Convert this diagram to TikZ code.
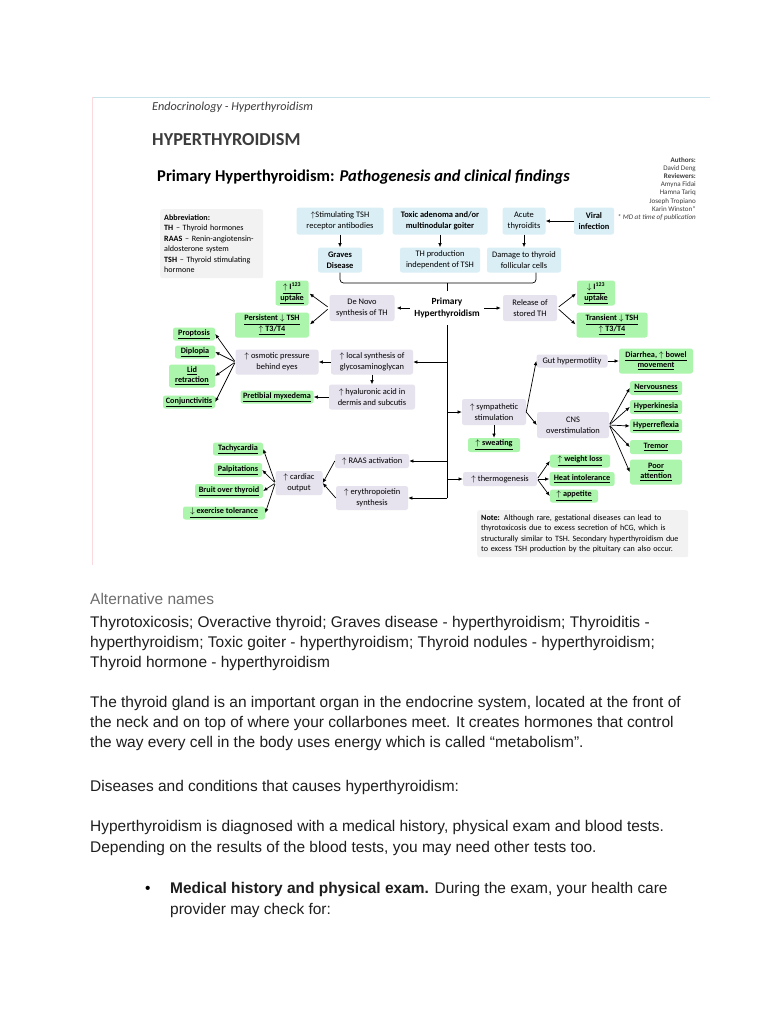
\documentclass[tikz,border=0pt]{standalone}
\usepackage{fontspec}
\setmainfont{Carlito}
\newfontfamily\docfont{Liberation Sans}
\usetikzlibrary{arrows.meta,positioning,calc}

\newlength\pxl
\setlength\pxl{0.03cm}
\definecolor{boxblue}{RGB}{218,238,245}
\definecolor{boxlilac}{RGB}{230,226,238}
\definecolor{boxgreen}{RGB}{172,245,172}
\definecolor{boxgrey}{RGB}{242,242,242}
\definecolor{inkgrey}{RGB}{60,60,60}
\newcommand\gul[1]{\underline{#1}}

\begin{document}
\begin{tikzpicture}[x=0.03cm,y=-0.03cm,
  every node/.style={font=\fontsize{7.2}{9.2}\selectfont},
  bx/.style={rounded corners=2pt, inner sep=0pt, align=center},
  blu/.style={bx, fill=boxblue},
  lil/.style={bx, fill=boxlilac},
  grn/.style={bx, fill=boxgreen, font=\fontsize{7}{9}\selectfont\bfseries},
  note/.style={bx, fill=boxgrey, anchor=north west, align=left, inner xsep=4\pxl, font=\fontsize{6.9}{8.9}\selectfont},
  sz/.style 2 args={minimum width=#1\pxl, minimum height=#2\pxl},
  arr/.style={-{Latex[length=3.6pt,width=3.1pt]}, line width=0.6pt},
  lnk/.style={line width=0.6pt},
  body/.style={anchor=base west, inner sep=0pt, font=\docfont\fontsize{13.2}{17}\selectfont},
]
\fill[white] (0,0) rectangle (768,1024);

% page frame
\draw[color={rgb,255:red,200;green,228;blue,234}, line width=0.8pt] (92,97) -- (710,97);
\draw[color={rgb,255:red,250;green,218;blue,222}, line width=0.8pt] (92,97) -- (92,565);

% headings
\node[anchor=west, inner sep=0pt, text=inkgrey, font=\fontsize{10.4}{12}\selectfont\itshape] (sect) at (152,107) {Endocrinology - Hyperthyroidism};
\node[anchor=west, inner sep=0pt, text=inkgrey, font=\fontsize{15.6}{18}\selectfont\bfseries] (ttl) at (152,140) {HYPERTHYROIDISM};
\node[anchor=west, inner sep=0pt, font=\fontsize{14.1}{16}\selectfont\bfseries] (sub) at (157,177) {Primary Hyperthyroidism: \textit{Pathogenesis and clinical findings}};
\node[anchor=north east, inner sep=0pt, align=right, text=inkgrey, font=\fontsize{6}{7}\selectfont] (auth) at (696,157)
  {\textbf{Authors:}\\David Deng\\\textbf{Reviewers:}\\Amyna Fidai\\Hamna Tariq\\Joseph Tropiano\\Karin Winston*\\\textit{* MD at time of publication}};

\node[note, sz={103}{69}, text width=95\pxl] (abbr) at (160,209)
  {\textbf{Abbreviation:}\\\textbf{TH} -- Thyroid hormones\\\textbf{RAAS} -- Renin-angiotensin-\\aldosterone system\\\textbf{TSH} -- Thyroid stimulating\\hormone};

% causes
\node[blu, sz={87}{27}] (stim) at (340,221) {$\uparrow$Stimulating TSH\\receptor antibodies};
\node[blu, sz={95}{27}, font=\fontsize{7.2}{9.2}\selectfont\bfseries] (toxic) at (440,221) {Toxic adenoma and/or\\multinodular goiter};
\node[blu, sz={43}{27}] (acute) at (524,221) {Acute\\thyroidits};
\node[blu, sz={40}{27}, font=\fontsize{7.2}{9.2}\selectfont\bfseries] (viral) at (594,221) {Viral\\infection};
\node[blu, sz={44}{25}, font=\fontsize{7.2}{9.2}\selectfont\bfseries] (graves) at (340,260) {Graves\\Disease};
\node[blu, sz={80}{25}] (thprod) at (440,260) {TH production\\independent of TSH};
\node[blu, sz={74}{25}] (damage) at (524,260) {Damage to thyroid\\follicular cells};

\node[bx, sz={66}{34}, font=\fontsize{8}{10}\selectfont\bfseries] (prim) at (447,308) {Primary\\Hyperthyroidism};
\coordinate (brk) at (447,283);

% mechanisms
\node[lil, sz={65}{26}] (denovo) at (362,308) {De Novo\\synthesis of TH};
\node[lil, sz={54}{26}] (release) at (530,308) {Release of\\stored TH};
\node[lil, sz={83}{25}] (osmo) at (277,362) {$\uparrow$ osmotic pressure\\behind eyes};
\node[lil, sz={82}{25}] (local) at (372,362) {$\uparrow$ local synthesis of\\glycosaminoglycan};
\node[lil, sz={86}{25}] (hyal) at (372,397) {$\uparrow$ hyaluronic acid in\\dermis and subcutis};
\node[lil, sz={71}{13}] (gut) at (572,361) {Gut hypermotlity};
\node[lil, sz={64}{26}] (symp) at (494,412) {$\uparrow$ sympathetic\\stimulation};
\node[lil, sz={72}{26}] (cns) at (573,425) {CNS\\overstimulation};
\node[lil, sz={74}{14}] (thermo) at (500,479) {$\uparrow$ thermogenesis};
\node[lil, sz={74}{14}] (raas) at (372,461) {$\uparrow$ RAAS activation};
\node[lil, sz={72}{24}] (ery) at (372,498) {$\uparrow$ erythropoietin\\synthesis};
\node[lil, sz={47}{24}] (card) at (299,483) {$\uparrow$ cardiac\\output};

% findings
\node[grn, sz={33}{25}] (upt1) at (292,293) {\gul{$\uparrow$ I\textsuperscript{123}}\\\gul{uptake}};
\node[grn, sz={74}{25}] (pers) at (272,325) {\gul{Persistent $\downarrow$ TSH}\\\gul{$\uparrow$ T3/T4}};
\node[grn, sz={38}{25}] (upt2) at (596,293) {\gul{$\downarrow$ I\textsuperscript{123}}\\\gul{uptake}};
\node[grn, sz={71}{25}] (trans) at (612,325) {\gul{Transient $\downarrow$ TSH}\\\gul{$\uparrow$ T3/T4}};
\node[grn, sz={42}{13}] (prop) at (194,334) {\gul{Proptosis}};
\node[grn, sz={40}{13}] (dipl) at (195,352) {\gul{Diplopia}};
\node[grn, sz={46}{23}] (lid) at (192,376) {\gul{Lid}\\\gul{retraction}};
\node[grn, sz={52}{13}] (conj) at (189,402) {\gul{Conjunctivitis}};
\node[grn, sz={73}{13}] (pret) at (277,397) {\gul{Pretibial myxedema}};
\node[grn, sz={74}{25}] (diar) at (656,361) {\gul{Diarrhea, $\uparrow$ bowel}\\\gul{movement}};
\node[grn, sz={52}{14}] (nerv) at (656,388) {\gul{Nervousness}};
\node[grn, sz={52}{14}] (hkin) at (656,407) {\gul{Hyperkinesia}};
\node[grn, sz={52}{14}] (hrefl) at (656,426) {\gul{Hyperreflexia}};
\node[grn, sz={52}{14}] (trem) at (656,447) {\gul{Tremor}};
\node[grn, sz={52}{25}] (poor) at (656,472) {\gul{Poor}\\\gul{attention}};
\node[grn, sz={52}{14}] (sweat) at (494,445) {\gul{$\uparrow$ sweating}};
\node[grn, sz={60}{13}] (wloss) at (580,461) {\gul{$\uparrow$ weight loss}};
\node[grn, sz={65}{14}] (heat) at (582,479) {\gul{Heat intolerance}};
\node[grn, sz={48}{13}] (appe) at (574,496) {\gul{$\uparrow$ appetite}};
\node[grn, sz={50}{13}] (tachy) at (238,449) {\gul{Tachycardia}};
\node[grn, sz={48}{14}] (palp) at (238,470) {\gul{Palpitations}};
\node[grn, sz={68}{14}] (bruit) at (229,491) {\gul{Bruit over thyroid}};
\node[grn, sz={82}{13}] (exer) at (224,513) {\gul{$\downarrow$ exercise tolerance}};

\node[note, sz={211}{47}, text width=203\pxl] (nt) at (477,510)
  {\textbf{Note:} Although rare, gestational diseases can lead to\\thyrotoxicosis due to excess secretion of hCG, which is\\structurally similar to TSH. Secondary hyperthyroidism due\\to excess TSH production by the pituitary can also occur.};

% connectors
\draw[arr] (stim) -- (graves);
\draw[arr] (toxic) -- (thprod);
\draw[arr] (acute) -- (damage);
\draw[arr] (viral) -- (acute);
\draw[lnk, rounded corners=3pt] (graves.south) |- (brk) -| ($(damage.south)+(12,0)$);
\draw[lnk] (brk) -- (prim.north);

\draw[arr, shorten <=4\pxl, shorten >=2\pxl] (prim) -- (denovo);
\draw[arr, shorten <=4\pxl, shorten >=2\pxl] (prim) -- (release);
\foreach \g in {upt1,pers} \draw[arr, shorten <=2\pxl, shorten >=1\pxl] (denovo.west) -- (\g.east);
\foreach \g in {upt2,trans} \draw[arr, shorten <=2\pxl, shorten >=1\pxl] (release.east) -- (\g.west);

\draw[lnk] (prim.south) -- (prim.south |- ery);
\foreach \m in {local,raas,ery,symp,thermo} \draw[arr] (prim.south |- \m) -- (\m);

\draw[arr] (local) -- (osmo);
\draw[arr] (local) -- (hyal);
\draw[arr] (hyal) -- (pret);
\foreach \g in {prop,dipl,lid,conj} \draw[arr, shorten <=1\pxl] (osmo.west) -- (\g.east);

\draw[arr] (symp.east) -- (gut.west);
\draw[arr] (symp.east) -- (cns.west);
\draw[arr] (symp) -- (sweat);
\draw[arr] (gut) -- (diar);
\foreach \g in {nerv,hkin,hrefl,trem,poor} \draw[arr, shorten <=1\pxl] (cns.east) -- (\g.west);
\foreach \g in {wloss,heat,appe} \draw[arr, shorten <=1\pxl] (thermo.east) -- (\g.west);

\draw[arr] (raas.west) -- (card.east);
\draw[arr] (ery.west) -- (card.east);
\foreach \g in {tachy,palp,bruit,exer} \draw[arr, shorten <=1\pxl] (card.west) -- (\g.east);

% page text
\node[body, text={rgb,255:red,110;green,110;blue,110}] (alt) at (90,604) {Alternative names};
\foreach \yy/\tx in {
  627/{Thyrotoxicosis; Overactive thyroid; Graves disease - hyperthyroidism; Thyroiditis -},
  647/{hyperthyroidism; Toxic goiter - hyperthyroidism; Thyroid nodules - hyperthyroidism;},
  667/{Thyroid hormone - hyperthyroidism},
  707/{The thyroid gland is an important organ in the endocrine system, located at the front of},
  727/{the neck and on top of where your collarbones meet. It creates hormones that control},
  747/{the way every cell in the body uses energy which is called “metabolism”.},
  791/{Diseases and conditions that causes hyperthyroidism:},
  831/{Hyperthyroidism is diagnosed with a medical history, physical exam and blood tests.},
  852/{Depending on the results of the blood tests, you may need other tests too.}}
  \node[body, text={rgb,255:red,30;green,30;blue,30}] (ln\yy) at (90,\yy) {\tx};
\node[body] (bul) at (145,893) {•};
\node[body, text={rgb,255:red,30;green,30;blue,30}] (med) at (170,893) {\textbf{Medical history and physical exam.} During the exam, your health care};
\node[body, text={rgb,255:red,30;green,30;blue,30}] (prov) at (170,914) {provider may check for:};
\end{tikzpicture}
\end{document}
